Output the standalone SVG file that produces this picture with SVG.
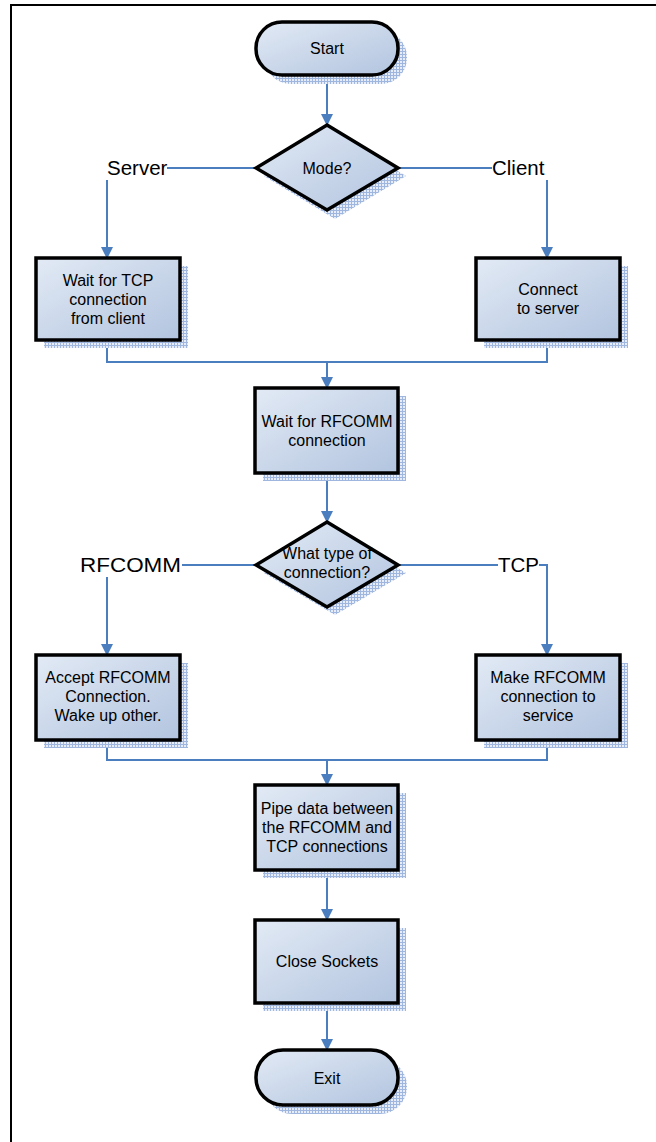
<svg xmlns="http://www.w3.org/2000/svg" width="656" height="1142" viewBox="0 0 656 1142">
  <defs>
    <linearGradient id="fill" x1="0" y1="0" x2="1" y2="1">
      <stop offset="0" stop-color="#e2eaf5"/>
      <stop offset="1" stop-color="#b2c4df"/>
    </linearGradient>
    <pattern id="hatch" width="3" height="3" patternUnits="userSpaceOnUse">
      <rect width="3" height="3" fill="#e6edf8"/>
      <path d="M0 0.5H3M0.5 0V3" stroke="#9fb6de" stroke-width="1"/>
    </pattern>
    <marker id="arrow" markerWidth="12" markerHeight="12" refX="10" refY="6" orient="auto" markerUnits="userSpaceOnUse">
      <path d="M0 0L12 6L0 12Z" fill="#4a7ebf"/>
    </marker>
    <style>
      .shape { fill: url(#fill); stroke: #000; stroke-width: 3.5; }
      .shadow { fill: url(#hatch); }
      .txt { font-family: "Liberation Sans", Arial, sans-serif; font-size: 16px; fill: #000; text-anchor: middle; }
      .lbl { font-family: "Liberation Sans", Arial, sans-serif; font-size: 20.5px; fill: #000; }
      .wire { fill: none; stroke: #4a7ebf; stroke-width: 2; }
    </style>
  </defs>

  <rect width="656" height="1142" fill="#fff"/>
  <!-- page frame -->
  <path d="M11 1142V5H656" fill="none" stroke="#000" stroke-width="2"/>

  <!-- connectors -->
  <g id="connectors">
    <path class="wire" d="M327 75V124" marker-end="url(#arrow)"/>
    <path class="wire" d="M256 168H167"/>
    <path class="wire" d="M107 180V257" marker-end="url(#arrow)"/>
    <path class="wire" d="M398 168H492"/>
    <path class="wire" d="M547 180V257" marker-end="url(#arrow)"/>
    <path class="wire" d="M107 340V362H547V340"/>
    <path class="wire" d="M327 362V387" marker-end="url(#arrow)"/>
    <path class="wire" d="M327 473V521" marker-end="url(#arrow)"/>
    <path class="wire" d="M256 565H182"/>
    <path class="wire" d="M107 577V654" marker-end="url(#arrow)"/>
    <path class="wire" d="M398 565H498"/>
    <path class="wire" d="M539 565H547V654" marker-end="url(#arrow)"/>
    <path class="wire" d="M107 740V760H547V740"/>
    <path class="wire" d="M327 760V784" marker-end="url(#arrow)"/>
    <path class="wire" d="M327 870V919" marker-end="url(#arrow)"/>
    <path class="wire" d="M327 1003V1049" marker-end="url(#arrow)"/>
    <text class="lbl" x="107" y="175">Server</text>
    <text class="lbl" x="492" y="175">Client</text>
    <text class="lbl" x="80" y="572" textLength="101" lengthAdjust="spacingAndGlyphs">RFCOMM</text>
    <text class="lbl" x="498" y="572">TCP</text>
  </g>

  <g id="start">
    <rect class="shadow" x="265" y="31" width="142" height="53" rx="26"/>
    <rect class="shape" x="256" y="22" width="142" height="53" rx="26"/>
    <text class="txt" x="327" y="54">Start</text>
  </g>

  <g id="mode">
    <polygon class="shadow" points="335,133 406,176 335,219 264,176"/>
    <polygon class="shape" points="327,125 398,168 327,210 256,168"/>
    <text class="txt" x="327" y="174">Mode?</text>
  </g>

  <g id="wait-tcp">
    <rect class="shadow" x="44" y="266" width="144" height="82"/>
    <rect class="shape" x="36" y="258" width="144" height="82"/>
    <text class="txt" x="108" y="286">Wait for TCP</text>
    <text class="txt" x="108" y="305">connection</text>
    <text class="txt" x="108" y="324">from client</text>
  </g>

  <g id="connect-server">
    <rect class="shadow" x="484" y="266" width="144" height="82"/>
    <rect class="shape" x="476" y="258" width="144" height="82"/>
    <text class="txt" x="548" y="295">Connect</text>
    <text class="txt" x="548" y="314">to server</text>
  </g>

  <g id="wait-rfcomm">
    <rect class="shadow" x="263" y="396" width="143" height="85"/>
    <rect class="shape" x="255" y="388" width="143" height="85"/>
    <text class="txt" x="327" y="427">Wait for RFCOMM</text>
    <text class="txt" x="327" y="446">connection</text>
  </g>

  <g id="conn-type">
    <polygon class="shadow" points="335,530 406,573 335,615 264,573"/>
    <polygon class="shape" points="327,522 398,565 327,607 256,565"/>
    <text class="txt" x="327" y="559">What type of</text>
    <text class="txt" x="327" y="578">connection?</text>
  </g>

  <g id="accept-rfcomm">
    <rect class="shadow" x="44" y="663" width="144" height="85"/>
    <rect class="shape" x="36" y="655" width="144" height="85"/>
    <text class="txt" x="108" y="683">Accept RFCOMM</text>
    <text class="txt" x="108" y="702">Connection.</text>
    <text class="txt" x="108" y="721">Wake up other.</text>
  </g>

  <g id="make-rfcomm">
    <rect class="shadow" x="484" y="663" width="144" height="85"/>
    <rect class="shape" x="476" y="655" width="144" height="85"/>
    <text class="txt" x="548" y="683">Make RFCOMM</text>
    <text class="txt" x="548" y="702">connection to</text>
    <text class="txt" x="548" y="721">service</text>
  </g>

  <g id="pipe">
    <rect class="shadow" x="263" y="793" width="143" height="85"/>
    <rect class="shape" x="255" y="785" width="143" height="85"/>
    <text class="txt" x="327" y="814">Pipe data between</text>
    <text class="txt" x="327" y="833">the RFCOMM and</text>
    <text class="txt" x="327" y="852">TCP connections</text>
  </g>

  <g id="close-sockets">
    <rect class="shadow" x="263" y="928" width="143" height="83"/>
    <rect class="shape" x="255" y="920" width="143" height="83"/>
    <text class="txt" x="327" y="967">Close Sockets</text>
  </g>

  <g id="exit">
    <rect class="shadow" x="265" y="1059" width="142" height="55" rx="27"/>
    <rect class="shape" x="256" y="1050" width="142" height="55" rx="27"/>
    <text class="txt" x="327" y="1084">Exit</text>
  </g>
</svg>
